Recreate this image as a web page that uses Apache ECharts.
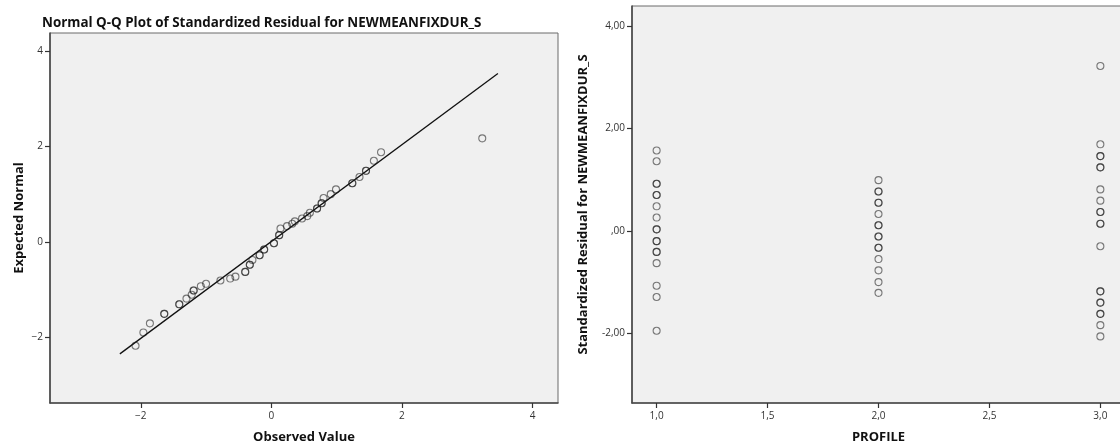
<!DOCTYPE html>
<html>
<head>
<meta charset="utf-8">
<script src="https://cdn.jsdelivr.net/npm/echarts@6/dist/echarts.min.js"></script>
<style>
  html, body { margin: 0; padding: 0; background: #ffffff; }
  #chart { width: 1120px; height: 445px; }
</style>
</head>
<body>
<div id="chart"></div>
<script>
// Normal Q-Q plot: observed standardized residuals vs expected normal scores
const qqObserved = [-2.08, -1.96, -1.86, -1.64, -1.64, -1.41, -1.41, -1.30, -1.22, -1.19, -1.19, -1.08, -1.00,
  -0.78, -0.63, -0.55, -0.40, -0.40, -0.33, -0.33, -0.29, -0.18, -0.18, -0.11, -0.11, 0.04, 0.04, 0.12, 0.12,
  0.14, 0.24, 0.32, 0.36, 0.47, 0.55, 0.59, 0.70, 0.70, 0.77, 0.77, 0.80, 0.91, 0.99, 1.24, 1.24, 1.35,
  1.45, 1.45, 1.57, 1.68, 3.23];
const qqExpected = [-2.18, -1.90, -1.71, -1.51, -1.51, -1.31, -1.31, -1.19, -1.11, -1.02, -1.02, -0.93, -0.88,
  -0.81, -0.77, -0.73, -0.63, -0.63, -0.48, -0.48, -0.38, -0.28, -0.28, -0.16, -0.16, -0.03, -0.03, 0.14, 0.14,
  0.28, 0.33, 0.38, 0.43, 0.49, 0.54, 0.61, 0.70, 0.70, 0.81, 0.81, 0.92, 1.00, 1.10, 1.23, 1.23, 1.36,
  1.49, 1.49, 1.70, 1.88, 2.17];
// reference line end points (observed, expected)
const refLineX = [-2.32, 3.47];
const refLineY = [-2.35, 3.53];
const qqTicks = [-2, 0, 2, 4];

// Standardized residuals grouped by PROFILE
const profiles = [1, 2, 3];
const profile1Residuals = [1.57, 1.36, 0.92, 0.92, 0.70, 0.70, 0.48, 0.26, 0.03, 0.03, -0.20, -0.20, -0.41, -0.41,
  -0.63, -1.07, -1.29, -1.95];
const profile2Residuals = [0.99, 0.77, 0.77, 0.55, 0.55, 0.33, 0.11, 0.11, -0.11, -0.11, -0.33, -0.33, -0.55,
  -0.77, -1.00, -1.21];
const profile3Residuals = [3.22, 1.69, 1.46, 1.46, 1.24, 1.24, 0.81, 0.59, 0.37, 0.37, 0.14, 0.14, -0.30,
  -1.18, -1.18, -1.40, -1.40, -1.62, -1.62, -1.84, -2.06];
const profileTicks = [1.0, 1.5, 2.0, 2.5, 3.0];
const profileTickLabels = ['1,0', '1,5', '2,0', '2,5', '3,0'];
const residTicks = [-2, 0, 2, 4];
const residTickLabels = ['-2,00', ',00', '2,00', '4,00'];

const FONT = '"Open Sans", "Liberation Sans", sans-serif';
const markerStyle = { color: 'rgba(0,0,0,0)', borderColor: 'rgba(30,30,30,0.72)', borderWidth: 1.1 };
const tickStyle = { color: '#333', width: 1.2 };
const labelBase = { color: '#333', fontFamily: FONT, fontSize: 10 };

function axisBase(extra) {
  return Object.assign({
    type: 'value',
    splitLine: { show: false },
    axisLine: { show: true, onZero: false, lineStyle: { color: '#4a4a4a', width: 1.6 } },
    nameLocation: 'middle',
    nameTextStyle: { color: '#111', fontFamily: FONT, fontSize: 13, fontWeight: 'bold' }
  }, extra);
}

function ticks(values) {
  return { show: true, length: 5, customValues: values, lineStyle: tickStyle };
}

function labels(values, margin, fmt) {
  return Object.assign({ margin: margin, customValues: values, formatter: fmt }, labelBase);
}

const qqFmt = v => (v < 0 ? '\u2212' + Math.abs(v) : String(v));

const profileGroups = [profile1Residuals, profile2Residuals, profile3Residuals];
const profilePoints = [];
profileGroups.forEach((vals, i) => vals.forEach(v => profilePoints.push([profiles[i], v])));

const gridBase = {
  show: true, backgroundColor: '#f0f0f0', borderColor: '#6a6a6a', borderWidth: 1,
  containLabel: false, outerBoundsMode: 'none'
};

const chart = echarts.init(document.getElementById('chart'), null, { renderer: 'canvas' });
chart.setOption({
  animation: false,
  backgroundColor: '#ffffff',
  title: {
    text: 'Normal Q-Q Plot of Standardized Residual for NEWMEANFIXDUR_S',
    left: 37, top: 12,
    textStyle: { fontFamily: FONT, fontSize: 13.4, fontWeight: 'bold', color: '#111' }
  },
  grid: [
    Object.assign({ left: 50, right: 562, top: 33, bottom: 42 }, gridBase),
    Object.assign({ left: 632, right: -5, top: 6, bottom: 42 }, gridBase)
  ],
  xAxis: [
    axisBase({
      gridIndex: 0, min: -3.39, max: 4.39,
      name: 'Observed Value', nameGap: 28,
      axisTick: ticks(qqTicks),
      axisLabel: labels(qqTicks, 8, qqFmt)
    }),
    axisBase({
      gridIndex: 1, min: 0.889, max: 3.111,
      name: 'PROFILE', nameGap: 28,
      axisTick: ticks(profileTicks),
      axisLabel: labels(profileTicks, 8, v => profileTickLabels[profileTicks.indexOf(v)])
    })
  ],
  yAxis: [
    axisBase({
      gridIndex: 0, min: -3.38, max: 4.38,
      name: 'Expected Normal', nameGap: 24,
      axisTick: ticks(qqTicks),
      axisLabel: labels(qqTicks, 7, qqFmt)
    }),
    axisBase({
      gridIndex: 1, min: -3.36, max: 4.39,
      name: 'Standardized Residual for NEWMEANFIXDUR_S', nameGap: 42,
      axisTick: ticks(residTicks),
      axisLabel: labels(residTicks, 7, v => residTickLabels[residTicks.indexOf(v)])
    })
  ],
  series: [
    {
      type: 'line', xAxisIndex: 0, yAxisIndex: 0,
      data: refLineX.map((x, i) => [x, refLineY[i]]),
      showSymbol: false, symbol: 'none',
      lineStyle: { color: '#111', width: 1.3 }, silent: true, z: 2
    },
    {
      type: 'scatter', xAxisIndex: 0, yAxisIndex: 0,
      data: qqObserved.map((x, i) => [x, qqExpected[i]]),
      symbol: 'circle', symbolSize: 7, itemStyle: markerStyle, z: 3
    },
    {
      type: 'scatter', xAxisIndex: 1, yAxisIndex: 1,
      data: profilePoints,
      symbol: 'circle', symbolSize: 7, itemStyle: markerStyle, z: 3
    }
  ]
});
</script>
</body>
</html>
